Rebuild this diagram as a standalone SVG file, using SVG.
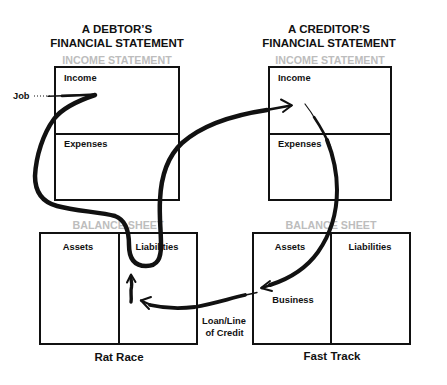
<svg xmlns="http://www.w3.org/2000/svg" width="447" height="385" viewBox="0 0 447 385">
  <style>
    .box { fill: none; stroke: #111; stroke-width: 2; }
    .title { font-family: "Liberation Sans", Arial, sans-serif; font-weight: bold; font-size: 11.5px; fill: #111; text-anchor: middle; }
    .section { font-family: "Liberation Sans", Arial, sans-serif; font-weight: bold; font-size: 10.7px; fill: #bdbdbd; text-anchor: middle; }
    .label { font-family: "Liberation Sans", Arial, sans-serif; font-weight: bold; font-size: 9.3px; fill: #111; }
    .mid { text-anchor: middle; }
    .brush { fill: none; stroke: #111; stroke-linecap: round; stroke-linejoin: round; }
    .head { fill: none; stroke: #111; stroke-width: 2; stroke-linecap: round; stroke-linejoin: round; }
  </style>

  <rect width="447" height="385" fill="#fff"/>

  <!-- Debtor side -->
  <g id="debtor-title">
    <text class="title" x="117" y="33">A DEBTOR’S</text>
    <text class="title" x="117" y="47">FINANCIAL STATEMENT</text>
  </g>
  <g id="debtor-income-statement">
    <text class="section" x="117" y="64">INCOME STATEMENT</text>
    <rect class="box" x="55" y="67" width="124" height="133"/>
    <line class="box" x1="55" y1="134" x2="179" y2="134"/>
    <text class="label" x="64" y="81">Income</text>
    <text class="label" x="64" y="147">Expenses</text>
  </g>
  <g id="debtor-balance-sheet">
    <text class="section" x="118" y="229">BALANCE SHEET</text>
    <rect class="box" x="40" y="233" width="157" height="111"/>
    <line class="box" x1="119" y1="233" x2="119" y2="344"/>
    <text class="label mid" x="78" y="250">Assets</text>
    <text class="label mid" x="157" y="250">Liabilities</text>
    <text class="title" x="119" y="360.5">Rat Race</text>
  </g>

  <!-- Creditor side -->
  <g id="creditor-title">
    <text class="title" x="329" y="33">A CREDITOR’S</text>
    <text class="title" x="329" y="47">FINANCIAL STATEMENT</text>
  </g>
  <g id="creditor-income-statement">
    <text class="section" x="330" y="64">INCOME STATEMENT</text>
    <rect class="box" x="269" y="67" width="122" height="133"/>
    <line class="box" x1="269" y1="134" x2="391" y2="134"/>
    <text class="label" x="278" y="81">Income</text>
    <text class="label" x="278" y="147">Expenses</text>
  </g>
  <g id="creditor-balance-sheet">
    <text class="section" x="331" y="229">BALANCE SHEET</text>
    <rect class="box" x="253" y="233" width="157" height="111"/>
    <line class="box" x1="331" y1="233" x2="331" y2="344"/>
    <text class="label mid" x="290" y="250">Assets</text>
    <text class="label mid" x="370" y="250">Liabilities</text>
    <text class="label mid" x="293" y="303">Business</text>
    <text class="title" x="332" y="360">Fast Track</text>
  </g>

  <!-- Free labels -->
  <g id="job-label">
    <text class="label" x="13" y="98.5">Job</text>
  </g>
  <g id="loan-label">
    <text class="label mid" x="224" y="323.5">Loan/Line</text>
    <text class="label mid" x="224.5" y="335.5">of Credit</text>
  </g>

  <!-- Connectors: hand-brushed arrows -->
  <g id="connectors">
    <!-- Job feeding income -->
    <line x1="34" y1="96" x2="50" y2="96" stroke="#111" stroke-width="1" stroke-dasharray="1 2"/>
    <path class="brush" d="M48,96.3 C65,95.8 80,95.2 95,94.5" stroke-width="1.6"/>
    <path class="brush" d="M62,95.9 C75,95.5 86,95 95,94.5" stroke-width="2.6"/>

    <!-- Income loops down through the debtor's liabilities and over to the creditor's income -->
    <path class="brush" stroke-width="4.5"
      d="M95,95 C80,100 63,107 54,119 C43,134 36,156 35,176 C35,192 42,202 57,206 C75,211 100,212 115,216 C126,220 129,231 129,245 C129,258 134,266 146,266 C158,266 161,258 161,245 C161,230 159,215 160,200 C161,177 168,156 182,143 C200,127 227,116 267,110"/>
    <path class="brush" stroke-width="2.6" d="M265,110.3 L291,105.5"/>
    <path class="head" d="M281,99.5 L292,105.3 L283,112"/>

    <!-- Creditor's income sweeping down to business assets -->
    <path class="brush" stroke-width="1.2" d="M305,104 C309,109 313,115 317,122"/>
    <path class="brush" stroke-width="2.6" d="M314,117 C320,126 326,136 330,147"/>
    <path class="brush" stroke-width="4"
      d="M327,140 C333,155 337,172 337,190 C337,212 332,232 318,252 C308,266 292,278 270,285"/>
    <path class="brush" stroke-width="2.4" d="M272,284.5 L262,288"/>
    <path class="head" d="M270,281 L261,288 L272,291"/>

    <!-- Loan / line of credit back into the debtor's liabilities -->
    <path class="brush" stroke-width="1.4" d="M257,292.5 C250,294 245,295 240,296"/>
    <path class="brush" stroke-width="3.8"
      d="M245,295 C228,299 212,304 195,307 C178,309 163,308 150,305"/>
    <path class="brush" stroke-width="2.4" d="M152,305.5 L141,300.5"/>
    <path class="head" d="M151,297 L141,300.5 L149,309"/>

    <!-- Short upward stroke under the liabilities -->
    <path class="brush" stroke-width="3.4" d="M131,302 C132,296 130,292 131.5,287 C132.5,283 130.5,280 131,277"/>
    <path class="head" d="M127,282.5 L131,274.5 L135.5,282"/>
  </g>
</svg>
